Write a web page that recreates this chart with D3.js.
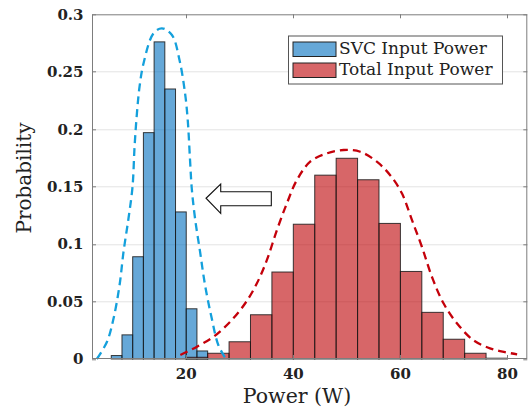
<!DOCTYPE html>
<html>
<head>
<meta charset="utf-8">
<script src="https://cdn.jsdelivr.net/npm/d3@7/dist/d3.min.js"></script>
<style>
  body { margin: 0; background: #fff; }
  text { font-family: "DejaVu Serif", serif; fill: #222; }
  .tick-label { font-weight: bold; font-size: 15px; }
</style>
</head>
<body>
<div id="chart"></div>
<script>
// histogram bin edges (W) and probabilities
var blueEdges = [6, 8, 10, 12, 14, 16, 18, 20, 22, 24];
var blueProb = [0.003, 0.021, 0.089, 0.197, 0.276, 0.235, 0.128, 0.0437, 0.007];

var redEdges = [20, 24, 28, 32, 36, 40, 44, 48, 52, 56, 60, 64, 68, 72, 76, 80];
var redProb = [0.0015, 0.005, 0.015, 0.0385, 0.0757, 0.1173, 0.160, 0.1747, 0.156,
               0.118, 0.0762, 0.0406, 0.0172, 0.005, 0.0007];

// dashed fit curves
var blueCurveX = [3.3, 5.2, 6.43, 7.55, 8.29, 9.22, 9.97, 10.35, 10.79, 11.28, 12.03, 13.89, 15.46,
                  17.33, 18.75, 19.78, 20.28, 20.71, 21.03, 21.64, 22.58, 23.51, 24.76, 25.99, 27.4];
var blueCurveY = [0, 0.015, 0.0354, 0.0644, 0.0934, 0.1225, 0.150, 0.1848, 0.2138, 0.237, 0.2574, 0.2835, 0.2878,
                  0.282, 0.260, 0.2312, 0.208, 0.1732, 0.1486, 0.1225, 0.0934, 0.0644, 0.0354, 0.0122, 0];

var redCurveX = [18.9, 22.0, 25.1, 28.22, 31.02, 33.2, 35.07, 36.94, 38.8, 40.67, 43.15, 46.27, 49.37,
                 52.49, 55.6, 58.09, 60.28, 62.15, 64.01, 65.88, 68.05, 70.55, 73.6, 76.73, 79.5, 81.8];
var redCurveY = [0.0035, 0.0107, 0.0194, 0.0325, 0.0485, 0.0659, 0.0862, 0.1123, 0.1355, 0.1558, 0.1717, 0.179, 0.1819,
                 0.1804, 0.1717, 0.160, 0.1442, 0.121, 0.0977, 0.0716, 0.0485, 0.0311, 0.0165, 0.0093, 0.006, 0.0041];

var xTicks = [20, 40, 60, 80];
var yTicks = [0, 0.05, 0.1, 0.15, 0.2, 0.25, 0.3];
var yTickLabels = ["0", "0.05", "0.1", "0.15", "0.2", "0.25", "0.3"];

var seriesNames = ["SVC Input Power", "Total Input Power"];

// arrow annotation (data units): tip, head base, tail, half heights
var arrowX = [23.7, 26.44, 35.89];
var arrowY = [0.1399, 0.1523, 0.1268, 0.1456, 0.1334];

var outerWidth = 531, outerHeight = 409;
var margin = {top: 14.3, right: 3.7, bottom: 50, left: 92},
    width = outerWidth - margin.left - margin.right,
    height = outerHeight - margin.top - margin.bottom;

var blueBase = "rgb(0,110,190)", redBase = "rgb(188,0,4)";

var svg = d3.select("#chart").append("svg")
    .attr("width", outerWidth)
    .attr("height", outerHeight)
  .append("g")
    .attr("transform", "translate(" + margin.left + "," + margin.top + ")");

var x = d3.scaleLinear().domain([2.4, 83.7]).range([0, width]);
var y = d3.scaleLinear().domain([0, 0.3]).range([height, 0]);

// horizontal grid
svg.append("g")
  .selectAll("line")
  .data(yTicks.slice(1, -1))
  .enter().append("line")
    .attr("x1", 0).attr("x2", width)
    .attr("y1", d => Math.round(y(d)) + 0.5)
    .attr("y2", d => Math.round(y(d)) + 0.5)
    .attr("stroke", "#e3e3e3")
    .attr("stroke-width", 1);

function drawBars(edges, probs, base, cls) {
    svg.append("g").attr("class", cls)
      .selectAll("rect")
      .data(probs)
      .enter().append("rect")
        .attr("x", (d, i) => x(edges[i]))
        .attr("width", (d, i) => x(edges[i + 1]) - x(edges[i]))
        .attr("y", d => y(d))
        .attr("height", d => y(0) - y(d))
        .attr("fill", base)
        .attr("fill-opacity", 0.6)
        .attr("stroke", "#1a1a1a")
        .attr("stroke-opacity", 0.85)
        .attr("stroke-width", 1);
}

drawBars(blueEdges, blueProb, blueBase, "blue-bars");
drawBars(redEdges, redProb, redBase, "red-bars");

var line = d3.line()
    .x(d => x(d[0]))
    .y(d => y(d[1]))
    .curve(d3.curveCatmullRom.alpha(0.5));

svg.append("path")
    .datum(blueCurveX.map((v, i) => [v, blueCurveY[i]]))
    .attr("d", line)
    .attr("fill", "none")
    .attr("stroke", "#14a0dc")
    .attr("stroke-width", 2.3)
    .attr("stroke-dasharray", "8,5");

svg.append("path")
    .datum(redCurveX.map((v, i) => [v, redCurveY[i]]))
    .attr("d", line)
    .attr("fill", "none")
    .attr("stroke", "#c4000a")
    .attr("stroke-width", 2.3)
    .attr("stroke-dasharray", "8,5");

// hollow arrow
var arrowPts = [
    [arrowX[0], arrowY[0]],
    [arrowX[1], arrowY[1]],
    [arrowX[1], arrowY[3]],
    [arrowX[2], arrowY[3]],
    [arrowX[2], arrowY[4]],
    [arrowX[1], arrowY[4]],
    [arrowX[1], arrowY[2]]
];
svg.append("polygon")
    .attr("points", arrowPts.map(p => x(p[0]) + "," + y(p[1])).join(" "))
    .attr("fill", "#fff")
    .attr("stroke", "#111")
    .attr("stroke-width", 1.1);

// axes box and inward ticks
var axisColor = "#7d7d7d";
svg.append("rect")
    .attr("x", 0.5).attr("y", 0.5)
    .attr("width", width - 1).attr("height", height - 1)
    .attr("fill", "none")
    .attr("stroke", axisColor);

var tickLen = 4;
xTicks.forEach(function(t) {
    var px = Math.round(x(t)) + 0.5;
    svg.append("line").attr("x1", px).attr("x2", px).attr("y1", height).attr("y2", height - tickLen).attr("stroke", axisColor);
    svg.append("line").attr("x1", px).attr("x2", px).attr("y1", 0).attr("y2", tickLen).attr("stroke", axisColor);
    svg.append("text")
        .attr("class", "tick-label")
        .attr("x", x(t)).attr("y", height + 20.5)
        .attr("text-anchor", "middle")
        .text(t);
});

yTicks.forEach(function(t, i) {
    var py = Math.round(y(t)) + 0.5;
    svg.append("line").attr("x1", 0).attr("x2", tickLen).attr("y1", py).attr("y2", py).attr("stroke", axisColor);
    svg.append("line").attr("x1", width).attr("x2", width - tickLen).attr("y1", py).attr("y2", py).attr("stroke", axisColor);
    svg.append("text")
        .attr("class", "tick-label")
        .attr("x", -8.5).attr("y", y(t))
        .attr("dy", "0.36em")
        .attr("text-anchor", "end")
        .text(yTickLabels[i]);
});

// axis labels
svg.append("text")
    .attr("transform", "translate(" + (31 - margin.left) + "," + (178 - margin.top) + ") rotate(-90)")
    .attr("text-anchor", "middle")
    .style("font-size", "20px")
    .text("Probability");

svg.append("text")
    .attr("x", 297 - margin.left)
    .attr("y", 403 - margin.top)
    .attr("text-anchor", "middle")
    .style("font-size", "20.5px")
    .text("Power (W)");

// legend
var legend = svg.append("g")
    .attr("transform", "translate(" + (288 - margin.left) + "," + (35.5 - margin.top) + ")");
legend.append("rect")
    .attr("x", 0.5).attr("y", 0.5)
    .attr("width", 214).attr("height", 48)
    .attr("fill", "#fff")
    .attr("stroke", "#555");

[blueBase, redBase].forEach(function(c, i) {
    legend.append("rect")
        .attr("x", 5).attr("y", 6.5 + i * 21)
        .attr("width", 43).attr("height", 14.5)
        .attr("fill", c).attr("fill-opacity", 0.6)
        .attr("stroke", "#222").attr("stroke-width", 1);
    legend.append("text")
        .attr("x", 51).attr("y", 18 + i * 21.5)
        .style("font-size", "17px")
        .text(seriesNames[i]);
});
</script>
</body>
</html>
